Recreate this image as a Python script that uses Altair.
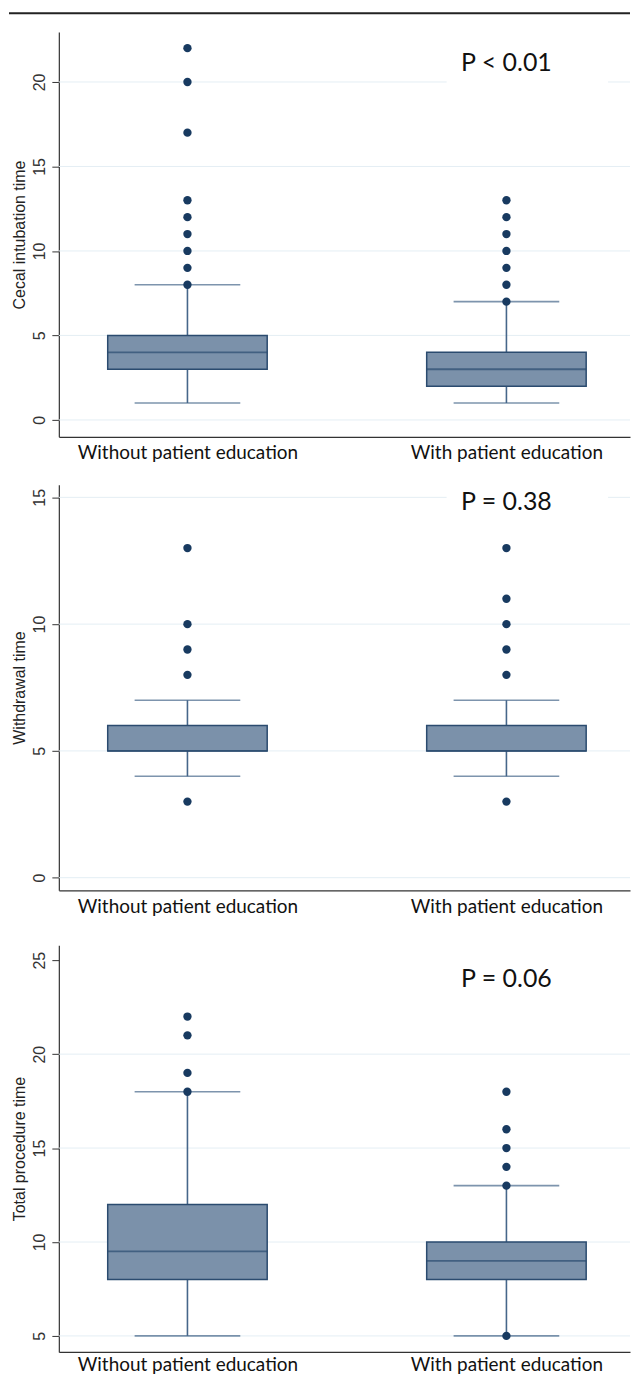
import altair as alt
import pandas as pd

groups = ["Without patient education", "With patient education"]

# Panel 1: Cecal intubation time
cecal_q1 = [3, 2]
cecal_med = [4, 3]
cecal_q3 = [5, 4]
cecal_lo = [1, 1]
cecal_hi = [8, 7]
cecal_out = [[8, 9, 10, 11, 12, 13, 17, 20, 22], [7, 8, 9, 10, 11, 12, 13]]
cecal_ticks = [0, 5, 10, 15, 20]
cecal_grid = [0, 5, 10, 15, 20]

# Panel 2: Withdrawal time
wd_q1 = [5, 5]
wd_med = [5, 5]
wd_q3 = [6, 6]
wd_lo = [4, 4]
wd_hi = [7, 7]
wd_out = [[3, 8, 9, 10, 13], [3, 8, 9, 10, 11, 13]]
wd_ticks = [0, 5, 10, 15]
wd_grid = [0, 5, 10, 15]

# Panel 3: Total procedure time
tot_q1 = [8, 8]
tot_med = [9.5, 9]
tot_q3 = [12, 10]
tot_lo = [5, 5]
tot_hi = [18, 13]
tot_out = [[18, 19, 21, 22], [5, 13, 14, 15, 16, 18]]
tot_ticks = [5, 10, 15, 20, 25]
tot_grid = [5, 10, 15, 20]

p_texts = ["P < 0.01", "P = 0.38", "P = 0.06"]
p_yvals = [21.1, 14.83, 24.0]

FILL = "#7b91aa"
STROKE = "#2b4b6f"
WHISK = "#46668a"
DOT = "#183a60"
GRID = "#e4eef4"
W = 573
# white label box behind the P value text (custom symbol path, scaled by 81 px)
BOX_PATH = "M-0.741,-0.247L1.259,-0.247L1.259,0.247L-0.741,0.247Z"


def panel(title, q1, med, q3, lo, hi, outs, domain, ticks, grid, ptext, py, height,
          top_rule=False, xpad=7):
    summ = pd.DataFrame({"g": groups, "q1": q1, "med": med, "q3": q3, "lo": lo, "hi": hi})
    od = pd.DataFrame({"g": [groups[i] for i in range(2) for _ in outs[i]],
                       "v": [v for i in range(2) for v in outs[i]]})
    tdf = pd.DataFrame({"g": [groups[1]], "v": [py], "t": [ptext]})
    gdf = pd.DataFrame({"v": grid})

    xs = alt.X("g:N", sort=groups,
               scale=alt.Scale(type="point", padding=0.3953, align=0.51),
               axis=alt.Axis(title=None, labelAngle=0, ticks=False, labelFont="Lato",
                             labelFontSize=19, labelColor="#111", labelPadding=xpad,
                             labelLimit=0, domainColor="#333", domainWidth=1.2, grid=False))
    sc = alt.Scale(domain=domain, nice=False, zero=False)
    ax = alt.Axis(values=ticks, grid=False,
                  labelAngle=270, labelAlign="center", labelBaseline="bottom",
                  labelFont="Liberation Sans", labelFontSize=16, labelColor="#333",
                  labelPadding=4, tickSize=7, tickColor="#333", domainColor="#333",
                  domainWidth=1.2, titleFont="Liberation Sans", titleFontSize=16,
                  titleFontWeight="normal", titleColor="#222", titlePadding=4)

    def Y(f):
        return alt.Y(f, type="quantitative", scale=sc, axis=ax, title=title)

    gridl = alt.Chart(gdf).mark_rule(color=GRID, strokeWidth=1).encode(y=Y("v"))
    base = alt.Chart(summ)
    whisk = base.mark_rule(color=WHISK, strokeWidth=1.6).encode(x=xs, y=Y("lo"), y2="hi")
    caps_lo = base.mark_tick(color=WHISK, size=106, thickness=1.6).encode(x=xs, y=Y("lo"))
    caps_hi = base.mark_tick(color=WHISK, size=106, thickness=1.6).encode(x=xs, y=Y("hi"))
    box = base.mark_bar(size=160, color=FILL, stroke=STROKE, strokeWidth=1.5).encode(
        x=xs, y=Y("q1"), y2="q3")
    medl = base.mark_tick(color=STROKE, size=160, thickness=1.8).encode(x=xs, y=Y("med"))
    dots = alt.Chart(od).mark_circle(size=70, color=DOT, opacity=1).encode(x=xs, y=Y("v"))
    tbox = alt.Chart(tdf).mark_point(shape=BOX_PATH, size=162 * 162, filled=True,
                                     color="white", opacity=1, strokeWidth=0).encode(
        x=xs, y=Y("v"))
    txt = alt.Chart(tdf).mark_text(font="Lato", fontSize=25, color="#111").encode(
        x=xs, y=Y("v"), text="t:N")
    layers = [gridl, tbox, whisk, caps_lo, caps_hi, box, medl, dots, txt]
    if top_rule:
        rule = alt.Chart(pd.DataFrame({"a": [0]})).mark_rule(color="#222", strokeWidth=2).encode(
            x=alt.value(-50), x2=alt.value(W), y=alt.value(-19))
        layers.append(rule)
    return alt.layer(*layers).properties(width=W, height=height)


p1 = panel("Cecal intubation time", cecal_q1, cecal_med, cecal_q3, cecal_lo, cecal_hi,
           cecal_out, [-1, 22.95], cecal_ticks, cecal_grid, p_texts[0], p_yvals[0], 406, True)
p2 = panel("Withdrawal time", wd_q1, wd_med, wd_q3, wd_lo, wd_hi, wd_out,
           [-0.5, 15.5], wd_ticks, wd_grid, p_texts[1], p_yvals[1], 407)
p3 = panel("Total procedure time", tot_q1, tot_med, tot_q3, tot_lo, tot_hi, tot_out,
           [4.15, 25.8], tot_ticks, tot_grid, p_texts[2], p_yvals[2], 408, xpad=4)

inner = alt.vconcat(p2, p3, spacing=55, bounds="flush")
chart = alt.vconcat(p1, inner, spacing=48, bounds="flush").properties(
    padding={"left": 0, "top": 2, "right": 0, "bottom": 0}
).configure(background="white").configure_view(strokeWidth=0)

chart.save("out.html", embed_options={"renderer": "svg", "actions": False})
